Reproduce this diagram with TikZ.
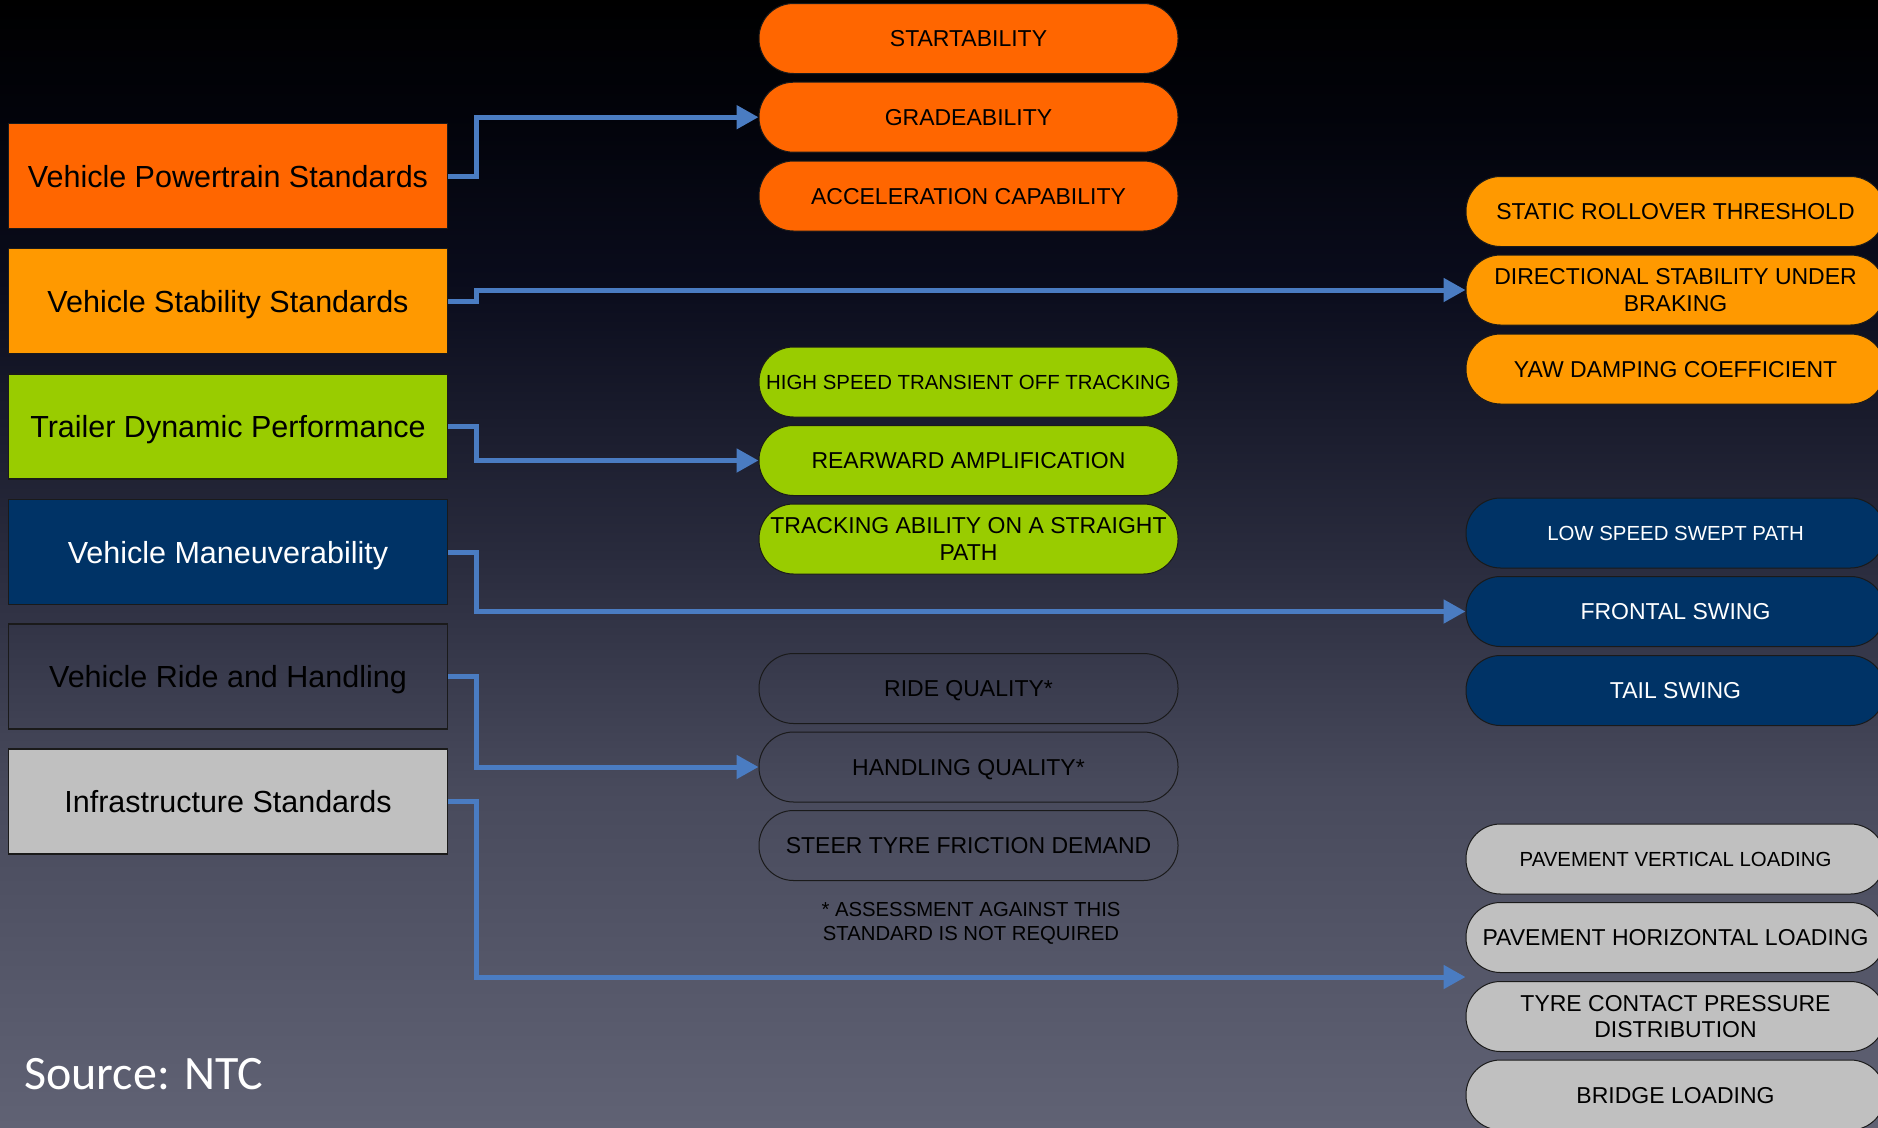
\documentclass[tikz,border=0pt]{standalone}
\usepackage{fontspec}
\setmainfont{Liberation Sans}
\newfontfamily\calib{Carlito}
\usetikzlibrary{arrows.meta,calc}
\definecolor{cPower}{HTML}{FF6600}
\definecolor{cStab}{HTML}{FF9900}
\definecolor{cTrail}{HTML}{99CC00}
\definecolor{cManeu}{HTML}{003366}
\definecolor{cInfra}{HTML}{C0C0C0}
\definecolor{cLine}{HTML}{4A7CC2}
\definecolor{cEdge}{HTML}{1A1A1A}
\definecolor{bgA}{RGB}{96,98,116}
\definecolor{bgB}{RGB}{72,74,92}
\definecolor{bgC}{RGB}{42,44,62}
\definecolor{bgD}{RGB}{10,12,28}
\definecolor{bgE}{RGB}{2,3,10}
\pgfdeclareverticalshading{bgshade}{100bp}{color(0bp)=(bgA); color(25bp)=(bgA); color(40bp)=(bgB); color(50bp)=(bgC); color(62.5bp)=(bgD); color(70bp)=(bgE); color(75bp)=(black); color(100bp)=(black)}
\tikzset{
  stdbox/.style={draw=cEdge, line width=1.2pt, minimum width=439pt, minimum height=105pt, inner sep=0pt,
    font=\fontsize{30.5}{36}\selectfont, text height=22.3pt, text depth=0pt},
  pillbase/.style={draw=cEdge, line width=1pt, rounded corners=34.5pt, minimum width=419pt, minimum height=70pt, inner sep=0pt, align=center},
  pill/.style={pillbase, font=\fontsize{23}{26.4}\selectfont, text height=16.5pt, text depth=0pt},
  pillsm/.style={pillbase, font=\fontsize{20.4}{24}\selectfont, text height=14.6pt, text depth=0pt},
  pilltwo/.style={pillbase, font=\fontsize{23}{26.4}\selectfont},
  conn/.style={draw=cLine, line width=5pt, -{Triangle[length=22pt,width=23pt]}},
}
\begin{document}
\begin{tikzpicture}[x=1pt, y=-1pt]
\useasboundingbox (0,0) rectangle (1878,1127);
\clip (0,0) rectangle (1878,1127);
\shade[shading=bgshade] (0,0) rectangle (1878,1127);

% left standards
\node[stdbox, fill=cPower] (b1) at (228,176) {Vehicle Powertrain Standards};
\node[stdbox, fill=cStab] (b2) at (228,301) {Vehicle Stability Standards};
\node[stdbox, fill=cTrail] (b3) at (228,426.5) {Trailer Dynamic Performance};
\node[stdbox, fill=cManeu, text=white] (b4) at (228,552) {Vehicle Maneuverability};
\node[stdbox] (b5) at (228,676.5) {Vehicle Ride and Handling};
\node[stdbox, fill=cInfra] (b6) at (228,801.5) {Infrastructure Standards};

% middle column
\node[pill, fill=cPower] (start) at (968.5,38.5) {STARTABILITY};
\node[pill, fill=cPower] (grade) at (968.5,117.2) {GRADEABILITY};
\node[pill, fill=cPower] (accel) at (968.5,196) {ACCELERATION CAPABILITY};
\node[pillsm, fill=cTrail] (hst) at (968.5,382) {HIGH SPEED TRANSIENT OFF TRACKING};
\node[pill, fill=cTrail] (rear) at (968.5,460.5) {REARWARD AMPLIFICATION};
\node[pilltwo, fill=cTrail] (track) at (968.5,539) {TRACKING ABILITY ON A STRAIGHT\\PATH};
\node[pill] (ride) at (968.5,688.5) {RIDE QUALITY*};
\node[pill] (hand) at (968.5,767) {HANDLING QUALITY*};
\node[pill] (steer) at (968.5,845.5) {STEER TYRE FRICTION DEMAND};
\node[align=center, inner sep=0pt, font=\fontsize{20.3}{24}\selectfont] (note) at (971,923.5) {* ASSESSMENT AGAINST THIS\\STANDARD IS NOT REQUIRED};

% right column
\node[pill, fill=cStab] (srt) at (1675.5,211.5) {STATIC ROLLOVER THRESHOLD};
\node[pilltwo, fill=cStab] (dsb) at (1675.5,290) {DIRECTIONAL STABILITY UNDER\\BRAKING};
\node[pill, fill=cStab] (yaw) at (1675.5,369) {YAW DAMPING COEFFICIENT};
\node[pillsm, fill=cManeu, text=white] (lssp) at (1675.5,533) {LOW SPEED SWEPT PATH};
\node[pill, fill=cManeu, text=white] (fs) at (1675.5,611.5) {FRONTAL SWING};
\node[pill, fill=cManeu, text=white] (ts) at (1675.5,690.5) {TAIL SWING};
\node[pillsm, fill=cInfra] (pvl) at (1675.5,859) {PAVEMENT VERTICAL LOADING};
\node[pill, fill=cInfra] (phl) at (1675.5,937.5) {PAVEMENT HORIZONTAL LOADING};
\node[pilltwo, fill=cInfra] (tcp) at (1675.5,1016.5) {TYRE CONTACT PRESSURE\\DISTRIBUTION};
\node[pill, fill=cInfra] (bridge) at (1675.5,1095) {BRIDGE LOADING};

% source
\node[anchor=base west, inner sep=0pt, text=white, font=\calib\fontsize{48}{56}\selectfont] (src) at (24,1089.5) {Source: NTC};

% connectors
\coordinate (bend) at (476,0);
\coordinate (infraTgt) at ($(phl.south west)!0.5!(tcp.north west)$);
\draw[conn] (b1.east) -- (b1.east -| bend) |- (grade.west);
\draw[conn] (b2.east) -- (b2.east -| bend) |- (dsb.west);
\draw[conn] (b3.east) -- (b3.east -| bend) |- (rear.west);
\draw[conn] (b4.east) -- (b4.east -| bend) |- (fs.west);
\draw[conn] (b5.east) -- (b5.east -| bend) |- (hand.west);
\draw[conn] (b6.east) -- (b6.east -| bend) |- (infraTgt);
\end{tikzpicture}
\end{document}
